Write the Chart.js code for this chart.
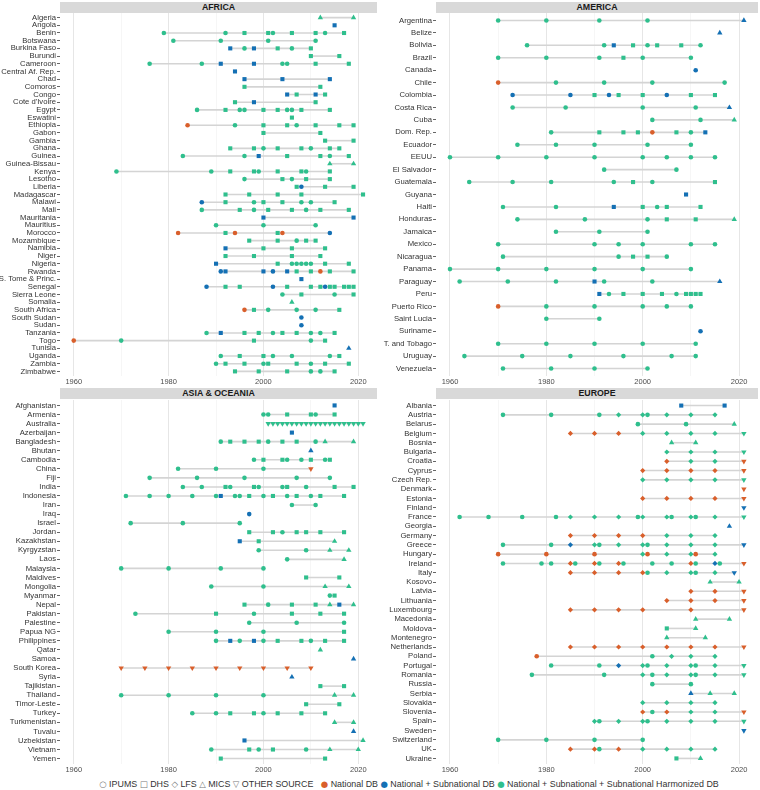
<!DOCTYPE html>
<html>
<head>
<meta charset="utf-8">
<title>Fuentes de datos por país</title>
<script src="https://cdn.jsdelivr.net/npm/chart.js"></script>
<style>
  body { margin: 0; background: #fff; font-family: 'Liberation Sans', Arial, sans-serif; }
  #wrap { position: relative; width: 760px; height: 790px; overflow: hidden; }
  canvas { position: absolute; }
  .strip { position: absolute; height: 11px; line-height: 11px; background: #d9d9d9; color: #1a1a1a;
           font-weight: bold; font-size: 8.8px; text-align: center; }
  #legend { position: absolute; left: 60px; width: 698px; top: 778px; height: 12px; line-height: 12px;
            text-align: center; font-size: 8.9px; color: #333; white-space: nowrap; }
  #legend .g { font-family: 'DejaVu Sans', sans-serif; color: #777; font-size: 8.5px; }
  #legend .d { font-family: 'DejaVu Sans', sans-serif; font-size: 8.5px; }
</style>
</head>
<body>
<div id="wrap">
  <div class="strip" style="left:60px;top:2px;width:317px">AFRICA</div>
  <div class="strip" style="left:436px;top:2px;width:322px">AMERICA</div>
  <div class="strip" style="left:60px;top:388px;width:317px">ASIA &amp; OCEANIA</div>
  <div class="strip" style="left:436px;top:388px;width:322px">EUROPE</div>
  <canvas id="africa" width="377" height="383" style="left:0;top:5px"></canvas>
  <canvas id="america" width="380" height="383" style="left:378px;top:5px"></canvas>
  <canvas id="asia" width="377" height="384" style="left:0;top:392px"></canvas>
  <canvas id="europe" width="380" height="384" style="left:378px;top:392px"></canvas>
  <div id="legend">
    <span class="g">○</span> IPUMS <span class="g">□</span> DHS <span class="g">◇</span> LFS <span class="g">△</span> MICS <span class="g">▽</span> OTHER SOURCE
    &nbsp;&nbsp;<span class="d" style="color:#d95f2b">●</span> National DB
    <span class="d" style="color:#1470b4">●</span> National + Subnational DB
    <span class="d" style="color:#2fbf8d">●</span> National + Subnational + Subnational Harmonized DB
  </div>
</div>
<script>
// source: I = IPUMS, D = DHS, L = LFS, M = MICS, O = other source
// database: n = National DB, s = National + Subnational DB, h = Harmonized DB
const yearTicks = [1960, 1970, 1980, 1990, 2000, 2010, 2020];

const africaCountries = ['Algeria', 'Angola', 'Benin', 'Botswana', 'Burkina Faso', 'Burundi', 'Cameroon',
  'Central Af. Rep.', 'Chad', 'Comoros', 'Congo', "Cote d'Ivoire", 'Egypt', 'Eswatini', 'Ethiopia', 'Gabon',
  'Gambia', 'Ghana', 'Guinea', 'Guinea-Bissau', 'Kenya', 'Lesotho', 'Liberia', 'Madagascar', 'Malawi', 'Mali',
  'Mauritania', 'Mauritius', 'Morocco', 'Mozambique', 'Namibia', 'Niger', 'Nigeria', 'Rwanda',
  'S. Tome & Princ.', 'Senegal', 'Sierra Leone', 'Somalia', 'South Africa', 'South Sudan', 'Sudan',
  'Tanzania', 'Togo', 'Tunisia', 'Uganda', 'Zambia', 'Zimbabwe'];
const africaRecords = [
  'M2012h M2019h',
  'D2015s',
  'I1979h I1992h D1996h D2001h I2002h D2006h D2011h I2013h D2017h',
  'I1981h I1991h I2001h I2011h',
  'D1993s I1996h D1998s D2003h I2006h D2010h',
  'D2010h D2016h',
  'I1976h I1987h D1991s D1998s I2004h I2005h D2011h D2018h',
  'D1994s',
  'D1996s D2004s D2014s',
  'D1996h D2012h',
  'D2005s D2007h D2011s D2013h',
  'D1994h D1998s D2011h',
  'I1986h D1992h I1995h I1996h D2000h D2003h I2005h I2006h D2008h D2014h',
  'D2006h',
  'I1984n I1994h D2000h D2005h I2007h D2011h D2016h D2019h',
  'D2000h D2012h',
  'D2013h D2019h',
  'D1993h D1998h I2000h D2003h D2008h I2010h D2014h D2016h',
  'I1983h I1996h D1999s D2005h D2012h I2014h D2018h',
  'M2014h M2019h',
  'I1969h I1989h D1993h D1998h I1999h D2003h D2008h I2009h D2014h',
  'I1996h D2004h I2006h D2009h D2014h',
  'D2007h I2008s D2013h D2019h',
  'D1992h D1997h D2003h D2008h D2021h',
  'I1987s D1992h I1998h D2000h D2004h I2008h I2010h D2015h',
  'I1987h D1995h I1998h D2001h D2006h I2009h D2012h D2018h',
  'D2000s D2019s',
  'I1990h I2000h I2011h',
  'I1982n D1992h I1994n D2003h I2004n I2014s',
  'D1997h D2003h I2007h D2009h D2011h',
  'D1992s D2000h D2006h D2013h',
  'D1992h D1998h D2006h D2012h',
  'D1990s D2003h I2006h I2007h I2008h I2009h I2010h D2013h D2018h',
  'I1991s D1992s D2000s I2002s D2005s D2007h D2010h I2012n D2014h D2019h',
  'D2008s',
  'I1988s D1992h D1995h I2002s D2005h D2010h D2012h I2013s D2014h D2015h D2017h D2018h D2019h',
  'I2004h D2008h I2015h D2019h',
  'M2006h',
  'I1996n D1998h I2001h I2007h I2011h D2016h',
  'I2008s',
  'I2008s',
  'I1988h D1991s D1996h D1999h I2002h D2004h D2007h I2010h I2012h D2015h',
  'I1960n I1970h D1998h I2010h D2013h',
  'M2018s',
  'I1991h D1995h D2000h I2002h I2006h I2014h D2016h',
  'I1990h D1992h D1996h I2000h D2001h D2007h I2010h D2013h D2018h',
  'D1994h D1999h D2005h I2010h I2012h D2015h'
];

const americaCountries = ['Argentina', 'Belize', 'Bolivia', 'Brazil', 'Canada', 'Chile', 'Colombia',
  'Costa Rica', 'Cuba', 'Dom. Rep.', 'Ecuador', 'EEUU', 'El Salvador', 'Guatemala', 'Guyana', 'Haiti',
  'Honduras', 'Jamaica', 'Mexico', 'Nicaragua', 'Panama', 'Paraguay', 'Peru', 'Puerto Rico', 'Saint Lucia',
  'Suriname', 'T. and Tobago', 'Uruguay', 'Venezuela'];
const americaRecords = [
  'I1970h I1980h I1991h I2001h M2021s',
  'M2016s',
  'I1976h I1992h D1994s D1998h I2001h D2003h D2008h I2012h',
  'I1970h I1980h I1991h D1996h I2000h I2010h',
  'I2011s',
  'I1970n I1982h I1992h I2002h I2017h',
  'I1973s I1985s D1990h I1993s D1995h D2000h I2005s D2010h D2015h',
  'I1973h I1984h I2000h I2011h M2018s',
  'I2002h I2012h M2019h',
  'I1981h D1991h D1996h D1999h I2002n D2007h I2010h D2013s',
  'I1974h I1982h I1990h I2001h I2010h',
  'I1960h I1970h I1980h I1990h I2000h I2005h I2010h I2015h',
  'I1992h I2007h',
  'I1964h I1973h I1981h I1994h D1998h I2002h D2015h',
  'D2009s',
  'I1971h I1982h D1994s D2000h I2003h D2005h D2012h',
  'I1974h I1988h I2001h D2005h D2011h M2019h',
  'I1982h I1991h I2001h',
  'I1970h I1990h I1995h I2000h I2010h I2015h',
  'I1971h I1995h D1998h D2001h I2005h',
  'I1960h I1970h I1980h I1990h I2000h I2010h',
  'I1962h I1972h I1982h D1990s I1992h I2002h M2016s',
  'D1991s I1993h D1996h D2000h D2004h I2007h D2009h D2010h D2011h D2012h',
  'I1970n I1980h I1990h I2000h I2005h I2010h',
  'I1980h I1991h',
  'I2012s',
  'I1970h I1980h I1990h I2000h I2011h',
  'I1963h I1975h I1985h I1996h I2006h I2011h',
  'I1971h I1981h I1990h I2001h'
];

const asiaCountries = ['Afghanistan', 'Armenia', 'Australia', 'Azerbaijan', 'Bangladesh', 'Bhutan',
  'Cambodia', 'China', 'Fiji', 'India', 'Indonesia', 'Iran', 'Iraq', 'Israel', 'Jordan', 'Kazakhstan',
  'Kyrgyzstan', 'Laos', 'Malaysia', 'Maldives', 'Mongolia', 'Myanmar', 'Nepal', 'Pakistan', 'Palestine',
  'Papua NG', 'Philippines', 'Qatar', 'Samoa', 'South Korea', 'Syria', 'Tajikistan', 'Thailand',
  'Timor-Leste', 'Turkey', 'Turkmenistan', 'Tuvalu', 'Uzbekistan', 'Vietnam', 'Yemen'];
const asiaRecords = [
  'D2015s',
  'I2000h I2001h D2005h D2010h I2011h D2015h',
  'O2001h O2002h O2003h O2004h O2005h O2006h O2007h O2008h O2009h O2010h O2011h O2012h O2013h O2014h O2015h O2016h O2017h O2018h O2019h O2020h O2021h',
  'D2006s',
  'I1991h D1993h D1996h D1999h I2001h D2004h D2007h I2011h M2013h M2019h',
  'M2010s',
  'I1998h D2000h D2004h I2005h I2008h D2010h I2013h D2014h',
  'I1982h I1990h I2000h O2010n',
  'I1976h I1986h I1996h I2007h I2014h',
  'I1983h I1987h D1992h I1993h D1998h I1999h I2004h D2005h I2009h D2015h D2019h',
  'I1971h I1976h I1980h I1985h I1990h D1991s I1994h I1995h D1997h I2000h D2002h I2005h D2007h I2010h D2012h D2017h',
  'I2006h I2011h',
  'I1997s',
  'I1972h I1983h I1995h',
  'D1997h D2002h I2004h D2007h D2009h D2012h D2017h',
  'D1995s D1999h M2015h',
  'I1999h I2009h M2014h M2018h',
  'I2005h M2017h',
  'I1970h I1980h I1991h I2000h',
  'D2009h D2016h',
  'I1989h I2000h M2013h M2018h',
  'I2014h D2015h',
  'D1996h I2001h D2006h D2011h M2014h D2016s M2019h',
  'I1973h D1990h I1998h D2006h D2012h D2017h',
  'I1997h I2007h I2017h',
  'I1980h I1990h I2000h D2017h',
  'I1990h D1993s I1995h D1998s I2000h D2003h D2008h I2010h D2013h D2017h',
  'M2012h',
  'M2019s',
  'O1970n O1975n O1980n O1985n O1990n O1995n O2000n O2005n O2010n',
  'M2006s',
  'D2012h D2017h',
  'I1970h I1980h I1990h I2000h M2015h M2019h',
  'D2009h D2016h',
  'I1985h I1990h D1993h D1998h I2000h D2003h D2008h D2013h',
  'M2015h M2019h',
  'M2019s',
  'D1996s M2021h',
  'I1989h D1997h I1999h D2002h I2009h M2014h M2020h',
  'D1991h D2013h'
];

const europeCountries = ['Albania', 'Austria', 'Belarus', 'Belgium', 'Bosnia', 'Bulgaria', 'Croatia',
  'Cyprus', 'Czech Rep.', 'Denmark', 'Estonia', 'Finland', 'France', 'Georgia', 'Germany', 'Greece',
  'Hungary', 'Ireland', 'Italy', 'Kosovo', 'Latvia', 'Lithuania', 'Luxembourg', 'Macedonia', 'Moldova',
  'Montenegro', 'Netherlands', 'Poland', 'Portugal', 'Romania', 'Russia', 'Serbia', 'Slovakia', 'Slovenia',
  'Spain', 'Sweden', 'Switzerland', 'UK', 'Ukraine'];
const europeRecords = [
  'D2008s D2017s',
  'I1971h I1981h I1991h L1995h L2000h I2001h L2005h L2010h L2015h',
  'I1999h I2009h M2019h',
  'L1985n L1990n L1995n L2000h L2005h L2010h L2015h O2021h',
  'M2006h M2011h',
  'L2005h L2010h L2015h O2021h',
  'L2005n L2010h L2015h O2021n',
  'L2000n L2005n L2010n L2015n O2021n',
  'L2000h L2005h L2010h L2015h O2021h',
  'O2021n',
  'L2000n L2005n L2010n L2015n O2021n',
  'O2021s',
  'I1962h I1968h I1975h I1982h L1985h L1990h L1995h I1999h L2000h L2005h I2006h L2010h I2011h L2015h O2021h',
  'M2018s',
  'L1985n L1990n L1995n L2000n L2005h L2010h L2015h',
  'I1971h I1981h L1985s L1990h I1991h L1995h L2000h I2001h L2005h L2010h L2015h O2021s',
  'I1970n I1980n I1990n L2000h I2001n L2005h L2010h I2011n L2015h',
  'I1971h I1979h I1981h L1985n I1986h L1990n I1991h L1995n I1996h I2002h I2006h L2010n I2011h L2015s I2016h O2021n',
  'L1985n L1990n L1995n L2000n I2001h L2005h L2010h I2011h L2015h O2019s',
  'M2014h M2020h',
  'L2010n L2015n O2021n',
  'L2005n L2010n L2015n O2021n',
  'L1985n L1990n L1995n L2000n L2010n O2021n',
  'M2011h M2018h',
  'D2005h M2011h',
  'M2005h M2013h',
  'L1985n L1990n L1995n L2000n L2005n L2010n L2015n O2021n',
  'I1978n I2002h L2006h L2010h L2015h',
  'I1981h I1991h L1995s L2000h I2001h L2005h L2010h I2011h L2015h O2021h',
  'I1977h I1992h L2000h I2002h L2005h L2010h I2011h L2015h O2021h',
  'I2002h I2010h',
  'M2010s M2014h M2019h',
  'L2000h L2005h L2010h L2015h',
  'L2000n I2002h L2005n L2010h L2015h O2021n',
  'L1990h I1991h L1995h L2000h I2001h L2005h L2010h L2015h O2021h',
  'O2021s',
  'I1970h I1980h I1990h I2000h',
  'L1985n L1990n I1991h L1995n L2000h L2005h L2010h L2015h',
  'D2007h M2012h'
];

const shapes = {
  I: { style: 'circle', radius: 2.3, rotation: 0 },
  D: { style: 'rect', radius: 2.9, rotation: 0 },
  L: { style: 'rectRot', radius: 2.6, rotation: 0 },
  M: { style: 'triangle', radius: 3.1, rotation: 0 },
  O: { style: 'triangle', radius: 3.1, rotation: 180 }
};
const dbColors = { n: '#d95f2b', s: '#1470b4', h: '#2fbf8d' };
const font = 'Liberation Sans';

function parse(rec, i) {
  return rec.split(' ').map(t => ({ x: +t.slice(1, -1), y: i, s: t[0], d: t.slice(-1) }));
}

function panel(id, countries, records, yw) {
  const pts = [];
  const lines = [];
  records.forEach((rec, i) => {
    const p = parse(rec, i);
    pts.push(...p);
    const xs = p.map(o => o.x);
    const lo = Math.min(...xs), hi = Math.max(...xs);
    if (hi > lo) {
      lines.push({
        data: [{ x: lo, y: i }, { x: hi, y: i }],
        showLine: true, borderColor: '#d4d4d4', borderWidth: 1.6,
        pointRadius: 0, order: 2
      });
    }
  });
  const pick = (c, k, def) => (c.raw ? shapes[c.raw.s][k] : def);
  new Chart(document.getElementById(id), {
    type: 'scatter',
    data: {
      datasets: [{
        data: pts,
        order: 1,
        pointStyle: c => pick(c, 'style', 'circle'),
        pointRadius: c => pick(c, 'radius', 2),
        pointRotation: c => pick(c, 'rotation', 0),
        pointBackgroundColor: c => (c.raw ? dbColors[c.raw.d] : '#999'),
        pointBorderWidth: 0
      }, ...lines]
    },
    options: {
      responsive: false,
      animation: false,
      devicePixelRatio: 1,
      layout: { padding: { top: 8, right: 0, bottom: 0, left: 0 } },
      plugins: { legend: { display: false }, tooltip: { enabled: false } },
      scales: {
        x: {
          type: 'linear', min: 1957.1, max: 2023.1,
          afterBuildTicks: s => { s.ticks = yearTicks.map(v => ({ value: v })); },
          afterFit: s => { s.height = 12; },
          ticks: {
            autoSkip: false, maxRotation: 0, padding: 1, color: '#4d4d4d',
            font: { family: font, size: 7.5 },
            callback: v => (v % 20 === 0 ? String(v) : '')
          },
          grid: {
            drawTicks: false,
            color: c => (c.tick && c.tick.value % 20 === 0 ? '#e6e6e6' : '#f2f2f2'),
            lineWidth: c => (c.tick && c.tick.value % 20 === 0 ? 1 : 0.7)
          },
          border: { display: false }
        },
        y: {
          type: 'linear', reverse: true, min: -0.6, max: countries.length - 0.4,
          afterBuildTicks: s => { s.ticks = countries.map((c, i) => ({ value: i })); },
          afterFit: s => { s.width = yw; },
          ticks: {
            autoSkip: false, padding: 1, color: '#333',
            font: { family: font, size: 7.7 },
            callback: v => countries[v]
          },
          grid: { drawOnChartArea: false, drawTicks: true, tickLength: 3, tickColor: '#666' },
          border: { display: false }
        }
      }
    }
  });
}

panel('africa', africaCountries, africaRecords, 60);
panel('america', americaCountries, americaRecords, 58);
panel('asia', asiaCountries, asiaRecords, 60);
panel('europe', europeCountries, europeRecords, 58);
</script>
</body>
</html>
